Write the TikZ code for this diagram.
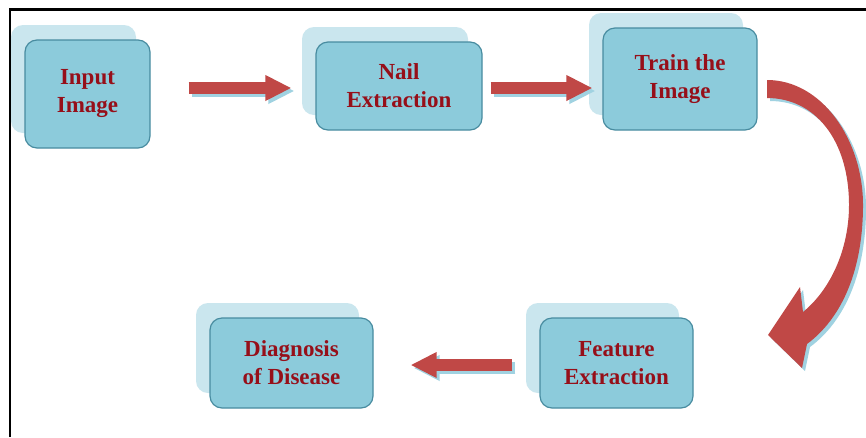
\documentclass[tikz,border=0pt]{standalone}
\usepackage{fontspec}
\setmainfont{Liberation Serif}
\usetikzlibrary{arrows.meta,calc}
\definecolor{boxfill}{RGB}{140,203,219}
\definecolor{boxline}{RGB}{72,140,160}
\definecolor{boxback}{RGB}{202,230,238}
\definecolor{arrowred}{RGB}{192,72,70}
\definecolor{arrowshadow}{RGB}{160,210,225}
\definecolor{textred}{RGB}{150,15,25}
\tikzset{
  stepbox/.style={draw=boxline, line width=1.2pt, fill=boxfill, rounded corners=12pt,
    align=center, inner sep=0pt, text=textred,
    font=\fontsize{23}{28}\selectfont\bfseries},
  backbox/.style={fill=boxback, rounded corners=12pt},
  bigarrow/.style={draw=arrowred, line width=12pt,
    -{Triangle[length=26pt 0, width=24pt 0]}, arrowred},
  bigshadow/.style={draw=arrowshadow, line width=12pt,
    -{Triangle[length=26pt 0, width=24pt 0]}, arrowshadow}
}
\newcommand{\mybox}[6]{% name, cx, cy, w, h, text
  \fill[backbox] (#2-#4/2-14,#3-#5/2-15) rectangle (#2+#4/2-14,#3+#5/2-15);
  \node[stepbox, minimum width=#4pt, minimum height=#5pt] (#1) at (#2,#3) {#6};
}
\newcommand{\curvearrow}{%
  (767,80) .. controls (822,80) and (863,140) .. (863,205)
  .. controls (863,270) and (842,318) .. (807,344)
  -- (802,368) -- (768,335) -- (800,287) -- (803,312)
  .. controls (830,290) and (849,250) .. (849,205)
  .. controls (849,140) and (815,98) .. (767,98) -- cycle}
\begin{document}
\begin{tikzpicture}[x=1pt,y=-1pt]
\useasboundingbox (0,0) rectangle (866,437);
\fill[white] (0,0) rectangle (866,437);
% frame
\draw[line width=2.6pt] (10,437) -- (10,9.5) -- (866,9.5);

\mybox{input}{87.5}{94}{125}{108}{Input\\Image}
\mybox{nail}{399}{86}{166}{88}{Nail\\Extraction}
\mybox{train}{680}{79}{154}{102}{Train the\\Image}
\mybox{feature}{616.5}{363}{153}{90}{Feature\\Extraction}
\mybox{diag}{291.5}{363}{163}{90}{Diagnosis\\of Disease}

% straight arrows
\coordinate (a1s) at ($(input.east)+(38,-6)$);
\coordinate (a1e) at ($(nail.west)+(-24,2)$);
\coordinate (a2s) at ($(nail.east)+(8,2)$);
\coordinate (a2e) at ($(train.west)+(-10,9)$);
\coordinate (a3s) at ($(feature.west)+(-27,2)$);
\coordinate (a3e) at ($(diag.east)+(37,2)$);
\foreach \s/\e in {a1s/a1e,a2s/a2e,a3s/a3e}{
  \draw[bigshadow] ([shift={(3,3)}]\s) -- ([shift={(3,3)}]\e);
  \draw[bigarrow] (\s) -- (\e);
}

% curved arrow from train to feature
\begin{scope}[shift={(3,3)}]
\fill[arrowshadow] \curvearrow;
\end{scope}
\fill[arrowred] \curvearrow;
\end{tikzpicture}
\end{document}
